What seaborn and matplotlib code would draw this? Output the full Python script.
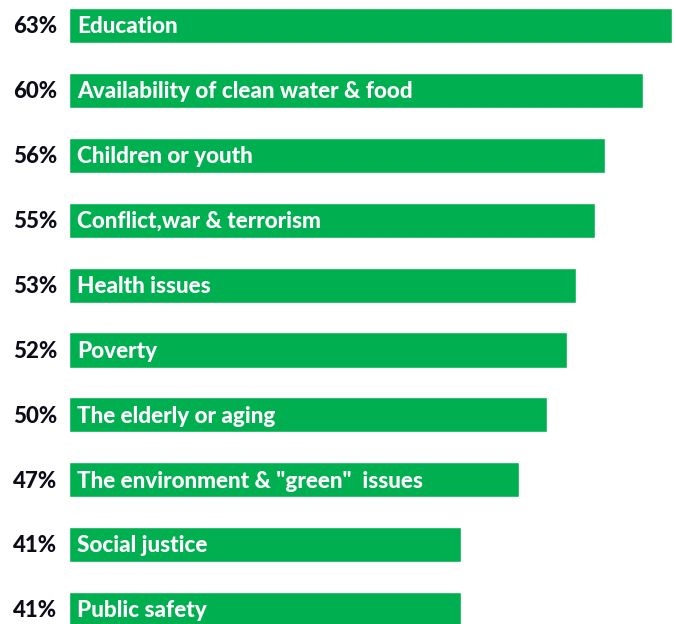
import matplotlib
matplotlib.use("Agg")
import matplotlib.pyplot as plt
import seaborn as sns
import pandas as pd

categories = ["Education", "Availability of clean water & food", "Children or youth",
              "Conflict,war & terrorism", "Health issues", "Poverty",
              "The elderly or aging", "The environment & \"green\"  issues",
              "Social justice", "Public safety"]
values = [63, 60, 56, 55, 53, 52, 50, 47, 41, 41]
value_labels = ["63%", "60%", "56%", "55%", "53%", "52%", "50%", "47%", "41%", "41%"]

df = pd.DataFrame({"category": categories, "value": values})

sns.set_theme(style="white")
plt.rcParams["font.family"] = ["Lato", "DejaVu Sans"]

fig = plt.figure(figsize=(6.76, 6.24), dpi=100)
ax = fig.add_axes([0, 0, 1, 1])
sns.barplot(data=df, x="value", y="category", orient="h", color="#00B050",
            saturation=1, width=0.54, ax=ax)

ax.set_xlim(-7.21, 63.43)
ax.set_ylim(9.222, -0.393)
ax.axis("off")

for i, (v, lab, cat) in enumerate(zip(values, value_labels, categories)):
    ax.text(-1.2, i + 0.02, lab, ha="right", va="center", fontsize=16, fontweight=900,
            color="#0d0d1a")
    ax.text(0.85, i + 0.02, cat, ha="left", va="center", fontsize=16.2, fontweight=900,
            color="white")

fig.savefig("out.png", dpi=100)
